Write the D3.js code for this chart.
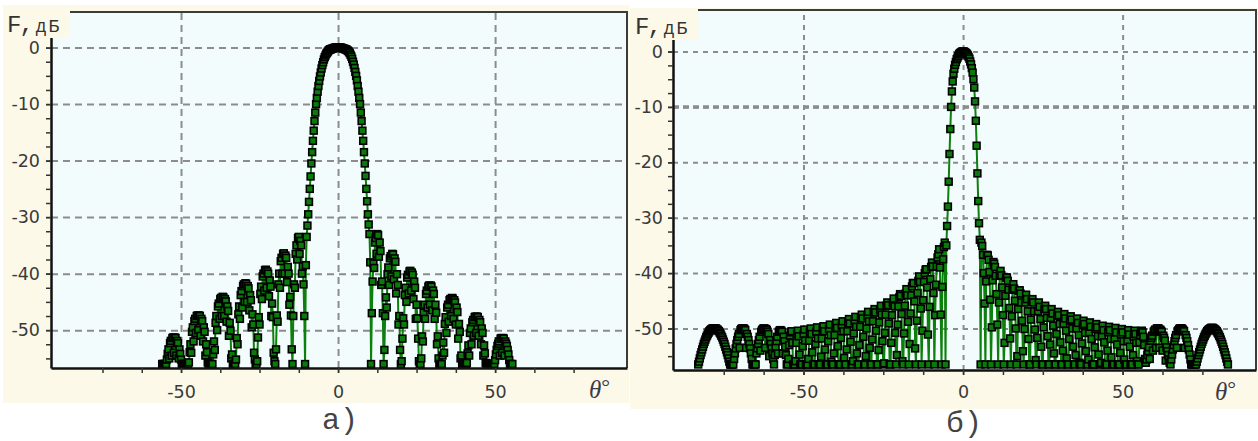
<!DOCTYPE html>
<html>
<head>
<meta charset="utf-8">
<script src="https://cdn.jsdelivr.net/npm/d3@7"></script>
<style>
  body { margin: 0; background: #fff; }
  svg { display: block; }
</style>
</head>
<body>
<svg id="chart" width="1258" height="441"></svg>
<script>

// ---- data: pattern level F (dB), sampled every 0.25 deg ----
var thetaStep = 0.25;

// a) from -56 to -0.25 deg
var aLeftDb = [
  -56, -56, -56, -56, -56, -56, -55.2, -54.2, -53.4, -55, -52.3, -51.9, -54.5, -51.4, -51.3, -54, -51.3, -51.4, -54.5, -51.9, -52.3, -55, -53.4, -54.2, -55.2, -56, -56, -56, -56, -56, -56,
  -56, -56, -56, -55.7, -53.9, -52.5, -54, -50.3, -49.5, -52, -48.4, -48, -50.5, -47.5, -47.4, -50, -47.4, -47.5, -51, -48, -48.4, -52, -49.5, -50.3, -54.5, -52.5, -53.9, -55.7, -56, -56, -56, -56,
  -56, -56, -54.3, -52, -53.5, -48.7, -47.5, -50, -45.8, -45.3, -48, -44.5, -44.3, -47.5, -44.1, -44.2, -47.5, -44.5, -44.9, -48.5, -45.8, -46.6, -51, -48.7, -50.1, -55, -54.3, -56, -56, -56,
  -56, -55.2, -51.4, -52.5, -47.2, -45.8, -48, -43.8, -43.1, -46, -42.2, -41.9, -45, -41.7, -41.8, -45, -42.2, -42.6, -46.5, -43.8, -44.7, -49.5, -47.2, -49, -54, -55.2, -56, -56,
  -55.5, -51.3, -47.7, -49, -43.6, -42.3, -44.5, -40.5, -40, -43, -39.4, -39.3, -42.5, -39.6, -40, -44, -41.2, -42.3, -47.5, -45.3, -47.7, -54, -55.5, -56,
  -53.4, -47.4, -48.5, -41.9, -40, -42.5, -37.8, -37.2, -40, -36.5, -36.4, -40, -36.8, -37.2, -41.5, -38.8, -40, -45.5, -44.1, -47.4, -53.4, -56,
  -47.5, -41.9, -42.5, -36.5, -35, -37.5, -33.7, -33.5, -36.5, -34.2, -35, -40, -38.7, -41.9, -47.5, -56,
  -38.5, -33.5, -31.5, -29.5, -27.3, -25, -22.8, -20.5, -18.5, -16.5, -14.7, -13, -11.5, -10, -8.9, -7.8, -6.8, -5.9, -5.1, -4.4,
  -3.7, -3.1, -2.6, -2.1, -1.7, -1.4, -1.1, -0.9, -0.7, -0.5, -0.4, -0.3, -0.3, -0.2, -0.2, -0.1, -0.1, 0, 0, 0, 0
];
// a) from 0 to 55.5 deg
var aRightDb = [
  0, 0, 0, 0, 0, -0.1, -0.1, -0.2, -0.2, -0.3, -0.3, -0.4, -0.5, -0.6, -0.8, -1, -1.3, -1.6, -2, -2.5, -3, -3.6,
  -4.3, -5, -5.8, -6.8, -7.8, -8.9, -10, -11.5, -13, -14.7, -16.5, -18.5, -20.5, -22.7, -25, -27.2, -29.5, -31.3, -33, -38, -56,
  -47, -41.4, -38.2, -39, -34.5, -33.7, -36.5, -33, -33.2, -37, -34.5, -36, -42, -41.4, -47, -56,
  -53.5, -47.5, -44.2, -46, -40.1, -38.9, -42, -37.3, -36.9, -40.5, -36.5, -36.6, -41, -37.3, -37.9, -43.5, -40.1, -42, -49, -47.5, -53.5, -56,
  -55.5, -51.5, -47.9, -49, -43.8, -42.5, -45, -40.7, -40.2, -43.5, -39.6, -39.5, -43, -39.8, -40.2, -44.5, -41.4, -42.5, -48, -45.5, -47.9, -51.5, -55.5, -56,
  -56, -55, -51.1, -52, -46.9, -45.5, -48, -43.6, -43, -46, -42.3, -42.1, -45.5, -42.1, -42.3, -46.5, -43, -43.6, -48, -45.5, -46.9, -52.5, -51.1, -55, -56, -56,
  -56, -56, -54.5, -52.2, -54, -48.9, -47.7, -50.5, -46, -45.5, -48.5, -44.7, -44.5, -47.5, -44.3, -44.4, -48, -44.7, -45.1, -49, -46, -46.8, -51.5, -48.9, -50.3, -55, -54.5, -56, -56, -56,
  -56, -56, -56, -55.8, -54.1, -52.7, -54.5, -50.5, -49.7, -52.5, -48.6, -48.2, -51, -47.7, -47.6, -50.5, -47.6, -47.7, -51, -48.2, -48.6, -52.5, -49.7, -50.5, -54.5, -52.7, -54.1, -55.8, -56, -56, -56, -56,
  -56, -56, -56, -56, -56, -56, -56, -55.3, -54.3, -53.5, -52.8, -52.4, -52, -54.5, -51.5, -51.4, -54, -51.4, -51.5, -54.5, -52, -52.4, -52.8, -53.5, -54.3, -55.3, -56, -56, -56, -56
];

// б) from -83 to -0.25 deg
var bLeftDb = [
  -56.5, -56, -55.4, -54.8, -54.3, -53.8, -53.3, -52.8, -52.4, -52, -51.6, -51.3, -51, -50.75, -50.5, -50.35, -50.2, -50.1, -50, -50, -50, -50, -50,
  -50.1, -50.2, -50.35, -50.5, -50.75, -51, -51.3, -51.6, -52, -52.4, -52.8, -53.3, -53.8, -54.3, -54.8, -55.4, -56, -56.5, -56.5, -56.5, -56.5, -56.5,
  -55.5, -54.5, -53.6, -52.8, -52.1, -51.5, -51, -53.5, -50.3, -50.1, -50, -50, -50, -50.1, -50.3, -53.5, -51, -51.5, -52.1, -52.8, -53.6, -54.5, -55.5, -56.5, -56.5, -56.5, -56.5, -56.5,
  -54.5, -53.6, -52.8, -52.1, -51.5, -54, -50.6, -50.3, -50.1, -50, -50, -53.5, -50.1, -50.3, -50.6, -51, -55, -52.1, -52.8, -53.6, -54.5, -55.5, -56.5,
  -54.8, -53.3, -52.3, -51.5, -54.5, -50.6, -50.4, -50.3, -50.4, -50.6, -54.5, -51.5, -52.3, -53.3, -54.8, -56.5,
  -56.5, -55.5, -53, -51.3, -50.7, -50.5,
  -52.6, -56.5, -56.5, -56.5, -55.9, -52.6, -51, -50.4,
  -51.4, -54.7, -56.5, -56.5, -56.5, -53.2, -51, -50.2,
  -52.2, -56.5, -56.5, -56.5, -55.5, -52.2, -50.6, -50,
  -51, -54.3, -56.5, -56.5, -56.5, -52.8, -50.6, -49.8,
  -51.8, -56.5, -56.5, -56.5, -55.1, -51.8, -50.2, -49.6,
  -50.5, -53.8, -56.5, -56.5, -56.5, -52.3, -50.1, -49.3,
  -51.2, -56, -56.5, -56.5, -54.5, -51.2, -49.6, -49,
  -49.9, -53.2, -56.5, -56.5, -56.5, -51.7, -49.5, -48.7,
  -50.5, -55.3, -56.5, -56.5, -53.8, -50.5, -48.9, -48.3,
  -49.1, -52.4, -56.5, -56.5, -55.9, -50.9, -48.7, -47.9,
  -49.7, -54.5, -56.5, -56.5, -53, -49.7, -48.1, -47.5,
  -48.2, -51.5, -56.5, -56.5, -55, -50, -47.8, -47,
  -48.7, -53.5, -56.5, -56.5, -52, -48.7, -47.1, -46.5,
  -47.1, -50.4, -56.5, -56.5, -53.9, -48.9, -46.7, -45.9,
  -47.5, -52.3, -56.5, -56.3, -50.8, -47.5, -45.9, -45.3,
  -45.8, -49.1, -56.5, -56.5, -52.6, -47.6, -45.4, -44.6,
  -46, -50.8, -56.5, -54.8, -49.3, -46, -44.4, -43.8,
  -44.1, -47.4, -55.9, -56.5, -50.9, -45.9, -43.7, -42.9,
  -44, -48.8, -56.5, -52.8, -47.3, -44, -42.4, -41.8,
  -41.8, -45.1, -53.6, -56.5, -48.6, -43.6, -41.4, -40.6,
  -41.6, -46.4, -56.5, -50.4, -44.9, -41.6, -40, -39.4,
  -39.3, -42.6, -51.1, -56.5, -46.1, -41.1, -38.9, -38.1,
  -38.8, -43.6, -56.5, -47.6, -42.1, -38.8, -37.2, -36.6,
  -35.7, -39, -47.5, -56.5, -42.5, -37.5, -35.3, -34.5,
  -56.5, -35, -31.5, -28, -23.5, -18.5, -14, -10, -7.2, -5.4, -4, -3.1, -2.4, -1.9, -1.4, -1.1, -0.8, -0.5, -0.3, -0.2, -0.1, 0
];
// б) from 0 to 83 deg
var bRightDb = [
  0, 0, -0.1, -0.2, -0.3, -0.5, -0.7, -1, -1.3, -1.8, -2.3, -3, -3.8, -5, -6.5, -9, -12.5, -17, -22, -27, -31, -34, -56.5,
  -34.5, -35.1, -36.7, -40, -45.5, -56.5, -41.5, -36.7,
  -36.8, -37.6, -39.8, -44.8, -56.5, -49.8, -41.3, -38,
  -38.3, -38.9, -40.5, -43.8, -49.3, -56.5, -45.3, -40.5,
  -39.6, -40.4, -42.6, -47.6, -56.5, -52.6, -44.1, -40.8,
  -40.8, -41.4, -43, -46.3, -51.8, -56.5, -47.8, -43,
  -42, -42.8, -45, -50, -56.5, -55, -46.5, -43.2,
  -43.1, -43.7, -45.3, -48.6, -54.1, -56.5, -50.1, -45.3,
  -43.9, -44.7, -46.9, -51.9, -56.5, -56.5, -48.4, -45.1,
  -44.7, -45.3, -46.9, -50.2, -55.7, -56.5, -51.7, -46.9,
  -45.3, -46.1, -48.3, -53.3, -56.5, -56.5, -49.8, -46.5,
  -45.9, -46.5, -48.1, -51.4, -56.5, -56.5, -52.9, -48.1,
  -46.5, -47.3, -49.5, -54.5, -56.5, -56.5, -51, -47.7,
  -47, -47.6, -49.2, -52.5, -56.5, -56.5, -54, -49.2,
  -47.4, -48.2, -50.4, -55.4, -56.5, -56.5, -51.9, -48.6,
  -47.8, -48.4, -50, -53.3, -56.5, -56.5, -54.8, -50,
  -48.2, -49, -51.2, -56.2, -56.5, -56.5, -52.7, -49.4,
  -48.6, -49.2, -50.8, -54.1, -56.5, -56.5, -55.6, -50.8,
  -48.9, -49.7, -51.9, -56.5, -56.5, -56.5, -53.4, -50.1,
  -49.2, -49.8, -51.4, -54.7, -56.5, -56.5, -56.2, -51.4,
  -49.5, -50.3, -52.5, -56.5, -56.5, -56.5, -54, -50.7,
  -49.7, -50.3, -51.9, -55.2, -56.5, -56.5, -56.5, -51.9,
  -49.9, -50.7, -52.9, -56.5, -56.5, -56.5, -54.4, -51.1,
  -50.1, -50.7, -52.3, -55.6, -56.5, -56.5, -56.5, -52.3,
  -50.3, -51.1, -53.3, -56.5, -56.5, -56.5, -54.8, -51.5,
  -50.4, -51, -52.6, -55.9, -56.5, -56.5,
  -52.5, -51.2, -50.6, -50.4, -50.7, -51.5, -53, -55.5,
  -56.2, -55.6, -54.8, -54.1, -53.4, -55.5, -52.2, -51.7, -51.3, -54, -50.6, -50.4, -50.2, -53.5, -50, -50,
  -50, -53.5, -50.2, -50.4, -50.6, -54, -51.3, -51.7, -52.2, -55.8, -53.4, -54.1, -54.8, -55.6, -56.2,
  -56.5, -55.6, -54.7, -53.8, -53, -52.3, -51.7, -51.2, -53.5, -50.5, -50.3, -50.1, -50, -50,
  -50, -50.1, -50.3, -50.5, -53.5, -51.2, -51.7, -52.3, -53, -53.8, -54.7, -55.6, -56.5, -56.5,
  -56.5, -56.5, -56.5, -56.5, -56.5, -56, -55.4, -54.8, -54.3, -53.8, -53.3, -52.8, -52.4, -52, -51.6, -51.3, -51, -50.75, -50.5, -50.35, -50.2, -50.1,
  -50, -49.9, -49.9, -49.9, -50, -50.1, -50.2, -50.35, -50.5, -50.75, -51, -51.3, -51.6, -52, -52.4, -52.8, -53.3, -53.8, -54.3, -54.8, -55.4, -56, -56.5
];

// ticks
var yLabelTicks = [0, -10, -20, -30, -40, -50];
var yMinorTicks = [0, -2.5, -5, -7.5, -10, -12.5, -15, -17.5, -20, -22.5, -25, -27.5, -30,
                   -32.5, -35, -37.5, -40, -42.5, -45, -47.5, -50, -52.5, -55];
var xLabelTicks = [-50, 0, 50];
var xMinorTicks = [-75, -62.5, -50, -37.5, -25, -12.5, 0, 12.5, 25, 37.5, 50, 62.5, 75];

function toPoints(leftDb, rightDb) {
    var pts = [];
    leftDb.forEach(function(v, i) { pts.push({ t: -(leftDb.length - i) * thetaStep, db: v }); });
    rightDb.forEach(function(v, i) { pts.push({ t: i * thetaStep, db: v }); });
    return pts;
}

var panels = [
    { name: "a", left: aLeftDb, right: aRightDb,
      bg: [3, 5, 629, 403], plot: { x0: 51, x1: 627, y0: 12, y1: 368 },
      xDomain: [-91.4, 92], yDomain: [-56.7, 6.3],
      box: [8, 8, 70, 38], fx: 7, fy: 32, yPad: 6, xPad: 13,
      thetaX: 589, thetaY: 398, cap: "a)", capX: 322, capY: 429, dash: "7,5" },
    { name: "b", left: bLeftDb, right: bRightDb,
      bg: [630, 8, 1258, 409], plot: { x0: 673, x1: 1256, y0: 10, y1: 370 },
      xDomain: [-90.9, 91.8], yDomain: [-57.5, 7.5],
      box: [633, 8, 698, 40], fx: 635, fy: 34, yPad: 5, xPad: 11,
      thetaX: 1215, thetaY: 400, cap: "б)", capX: 946, capY: 432, dash: "5,5", heavyRow: -10 }
];

var svg = d3.select("#chart");
var textColor = "#3a3a3a";

panels.forEach(function(p) {
    var g = svg.append("g").attr("class", "panel-" + p.name);
    var w = p.plot.x1 - p.plot.x0, h = p.plot.y1 - p.plot.y0;

    var x = d3.scaleLinear().domain(p.xDomain).range([p.plot.x0, p.plot.x1]);
    var y = d3.scaleLinear().domain(p.yDomain).range([p.plot.y1, p.plot.y0]);

    // panel background
    g.append("rect")
        .attr("x", p.bg[0]).attr("y", p.bg[1])
        .attr("width", p.bg[2] - p.bg[0]).attr("height", p.bg[3] - p.bg[1])
        .attr("fill", "#fdf9e9");

    g.append("rect")
        .attr("x", p.plot.x0).attr("y", p.plot.y0)
        .attr("width", w).attr("height", h)
        .attr("fill", "#f3fcfd");

    // grid
    var gridY = g.append("g")
        .attr("transform", "translate(" + p.plot.x0 + ",0)")
        .call(d3.axisLeft(y).tickValues(yLabelTicks).tickSize(-w).tickFormat(""));
    var gridX = g.append("g")
        .attr("transform", "translate(0," + p.plot.y1 + ")")
        .call(d3.axisBottom(x).tickValues(xLabelTicks).tickSize(-h).tickFormat(""));
    [gridY, gridX].forEach(function(gr) {
        gr.select(".domain").remove();
        gr.selectAll("line")
            .attr("stroke", "#8c8c8c")
            .attr("stroke-width", 2)
            .attr("stroke-dasharray", p.dash);
    });
    if (p.heavyRow !== undefined) {
        g.append("line")
            .attr("x1", p.plot.x0).attr("x2", p.plot.x1)
            .attr("y1", y(p.heavyRow)).attr("y2", y(p.heavyRow))
            .attr("stroke", "#8c8c8c").attr("stroke-width", 3.5)
            .attr("stroke-dasharray", "6,4");
    }

    // series
    g.append("clipPath").attr("id", "clip-" + p.name)
        .append("rect")
        .attr("x", p.plot.x0).attr("y", p.plot.y0)
        .attr("width", w).attr("height", h);

    var pts = toPoints(p.left, p.right);
    var series = g.append("g").attr("clip-path", "url(#clip-" + p.name + ")");

    var line = d3.line()
        .x(function(d) { return x(d.t); })
        .y(function(d) { return y(d.db); });

    series.append("path")
        .datum(pts)
        .attr("d", line)
        .attr("fill", "none")
        .attr("stroke", "#0c7f0c")
        .attr("stroke-width", 2);

    var ms = 6.8;
    series.selectAll("rect.marker")
        .data(pts)
        .enter().append("rect")
        .attr("class", "marker")
        .attr("x", function(d) { return x(d.t) - ms / 2; })
        .attr("y", function(d) { return y(d.db) - ms / 2; })
        .attr("width", ms).attr("height", ms)
        .attr("fill", "#0a7a0a")
        .attr("stroke", "#000")
        .attr("stroke-width", 1.6);

    // frame top / right
    g.append("path")
        .attr("d", "M" + p.plot.x0 + "," + p.plot.y0 + "H" + p.plot.x1 + "V" + p.plot.y1)
        .attr("fill", "none")
        .attr("stroke", "#3c3c3c")
        .attr("stroke-width", 2);

    // axes
    var yMinor = g.append("g")
        .attr("transform", "translate(" + p.plot.x0 + ",0)")
        .call(d3.axisLeft(y).tickValues(yMinorTicks).tickSize(5).tickSizeOuter(0).tickFormat(""));
    var xMinor = g.append("g")
        .attr("transform", "translate(0," + p.plot.y1 + ")")
        .call(d3.axisBottom(x).tickValues(xMinorTicks).tickSize(5).tickSizeOuter(0).tickFormat(""));
    [yMinor, xMinor].forEach(function(ax) {
        ax.selectAll("line").attr("stroke", "#333").attr("stroke-width", 1.5);
        ax.select(".domain").attr("stroke", "#111").attr("stroke-width", 2.5);
    });

    var yAxis = g.append("g")
        .attr("transform", "translate(" + p.plot.x0 + ",0)")
        .call(d3.axisLeft(y).tickValues(yLabelTicks).tickSize(5).tickPadding(p.yPad)
            .tickFormat(function(d) { return String(d); }));
    var xAxis = g.append("g")
        .attr("transform", "translate(0," + p.plot.y1 + ")")
        .call(d3.axisBottom(x).tickValues(xLabelTicks).tickSize(5).tickPadding(p.xPad)
            .tickFormat(function(d) { return String(d); }));
    [yAxis, xAxis].forEach(function(ax) {
        ax.select(".domain").remove();
        ax.selectAll("line").attr("stroke", "#333").attr("stroke-width", 1.5);
        ax.selectAll("text")
            .attr("fill", textColor)
            .style("font-family", "'DejaVu Sans', sans-serif")
            .style("font-size", "17.5px");
    });

    // F, dB label box
    g.append("rect")
        .attr("x", p.box[0]).attr("y", p.box[1])
        .attr("width", p.box[2] - p.box[0]).attr("height", p.box[3] - p.box[1])
        .attr("fill", "#fdf9e9");
    var fl = g.append("text")
        .attr("x", p.fx).attr("y", p.fy)
        .attr("fill", "#333")
        .style("font-family", "'Liberation Mono', monospace");
    fl.append("tspan").style("font-size", "24px").style("letter-spacing", "-2px").text("F,");
    fl.append("tspan").attr("dx", 4).style("font-size", "18px").style("letter-spacing", "2px").text("дБ");

    // theta label
    var th = g.append("text")
        .attr("x", p.thetaX).attr("y", p.thetaY)
        .attr("fill", "#3a3a4a")
        .style("font-family", "'Liberation Serif', serif");
    th.append("tspan").style("font-style", "italic").style("font-size", "25px").text("θ");
    th.append("tspan").attr("dy", -4).style("font-size", "22px").text("°");

    // caption
    g.append("text")
        .attr("x", p.capX).attr("y", p.capY)
        .attr("fill", "#444")
        .style("font-family", "'Liberation Mono', monospace")
        .style("font-size", "30px")
        .text(p.cap);
});

</script>
</body>
</html>
